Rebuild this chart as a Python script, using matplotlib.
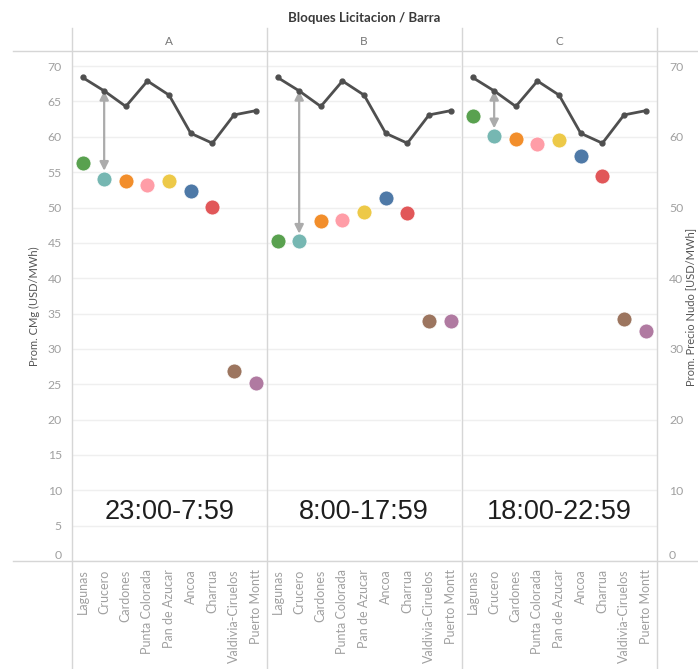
import matplotlib
matplotlib.use("Agg")
import matplotlib.pyplot as plt
from matplotlib.lines import Line2D

# ---------------- data ----------------
barras = ["Lagunas", "Crucero", "Cardones", "Punta Colorada", "Pan de Azucar",
          "Ancoa", "Charrua", "Valdivia-Ciruelos", "Puerto Montt"]
bloques = ["A", "B", "C"]
horarios = ["23:00-7:59", "8:00-17:59", "18:00-22:59"]
cmg_A = [56.3, 54.1, 53.8, 53.2, 53.7, 52.3, 50.1, 26.9, 25.2]
cmg_B = [45.2, 45.2, 48.1, 48.2, 49.4, 51.3, 49.2, 34.0, 33.9]
cmg_C = [63.0, 60.1, 59.7, 59.0, 59.5, 57.3, 54.4, 34.3, 32.5]
precio_nudo = [68.4, 66.5, 64.3, 67.9, 65.9, 60.5, 59.1, 63.1, 63.7]
colores = ["#59a14f", "#76b7b2", "#f28e2b", "#ff9da7", "#edc948",
           "#4e79a7", "#e15759", "#9c755f", "#b07aa1"]
cmg_all = [cmg_A, cmg_B, cmg_C]

W, H = 698, 669
fig = plt.figure(figsize=(W / 100, H / 100), dpi=100)
FONT = ["Lato", "DejaVu Sans"]
plt.rcParams["font.family"] = FONT

def fx(px):
    return px / W

def fy(py):
    return 1 - py / H

left_px = [71.7, 266.7, 461.7]
pw = 194.8
top_px, bot_px = 52.0, 561.0
YMAX = 72

grid_c = "#efefef"
sep_c = "#d6d6d6"
tick_c = "#a0a0a0"

for i, (b, hr, cmg) in enumerate(zip(bloques, horarios, cmg_all)):
    ax = fig.add_axes([fx(left_px[i]), fy(bot_px), fx(pw), (bot_px - top_px) / H])
    ax.set_xlim(-0.5, len(barras) - 0.5)
    ax.set_ylim(0, YMAX)
    for s in ax.spines.values():
        s.set_visible(False)
    ax.set_yticks(range(0, 71, 5))
    ax.yaxis.grid(True, color=grid_c, lw=1.0)
    ax.set_axisbelow(True)
    ax.tick_params(axis="both", length=0, labelsize=8.8, labelcolor=tick_c)
    ax.tick_params(axis="y", pad=7)
    ax.tick_params(axis="x", pad=6)
    ax.set_xticks(range(len(barras)))
    ax.set_xticklabels(barras, rotation=90, va="top", ha="center", fontsize=9)
    if i != 0:
        ax.set_yticklabels([])
    else:
        ax.set_ylabel("Prom. CMg (USD/MWh)", fontsize=8, color="#555555")
        ax.yaxis.set_label_coords((40 - left_px[0]) / pw, 0.5)
        for t in ax.get_yticklabels():
            if t.get_text() == "0":
                t.set_va("bottom")
    for j in range(len(barras)):
        ax.plot(j, cmg[j], "o", ms=10.8, color=colores[j], mec="white", mew=0.6, zorder=3)
    ax.text(4, 7.0, hr, ha="center", va="center", fontsize=19.5,
            family=["Liberation Sans", "DejaVu Sans"], color="#1e1e1e")

    tx = ax.twinx()
    tx.set_ylim(0, YMAX)
    for s in tx.spines.values():
        s.set_visible(False)
    tx.tick_params(axis="y", length=0, labelsize=8.8, labelcolor=tick_c, pad=9)
    tx.plot(range(len(barras)), precio_nudo, "-o", color="#4f4f4f", lw=2.0, ms=3.5, zorder=4)
    tx.annotate("", xy=(1, cmg[1] + 1.1), xytext=(1, precio_nudo[1]),
                arrowprops=dict(arrowstyle="<|-|>", color="#ababab", lw=1.6,
                                mutation_scale=13, shrinkA=0, shrinkB=0))
    if i == 2:
        tx.set_yticks(range(0, 71, 10))
        for t in tx.get_yticklabels():
            if t.get_text() == "0":
                t.set_va("bottom")
        tx.set_ylabel("Prom. Precio Nudo [USD/MWh]", fontsize=8, color="#555555")
        tx.yaxis.set_label_coords((685 - left_px[2]) / pw, 0.5)
    else:
        tx.set_yticks([])
    # block header
    fig.text(fx(left_px[i] + pw / 2), fy(41.7), b, ha="center", va="center",
             fontsize=8.5, color="#777777")

# title
fig.text(fx(364), fy(18), "Bloques Licitacion / Barra", ha="center", va="center",
         fontsize=9.5, color="#3a3a3a", weight="bold")

# separators
for xp in left_px + [656.5]:
    fig.add_artist(Line2D([fx(xp), fx(xp)], [fy(28), fy(H)], color=sep_c, lw=1.0))
for yp in [50.7, 561.0]:
    fig.add_artist(Line2D([fx(13), 1], [fy(yp), fy(yp)], color=sep_c, lw=1.0))

fig.savefig("out.png", dpi=100)
